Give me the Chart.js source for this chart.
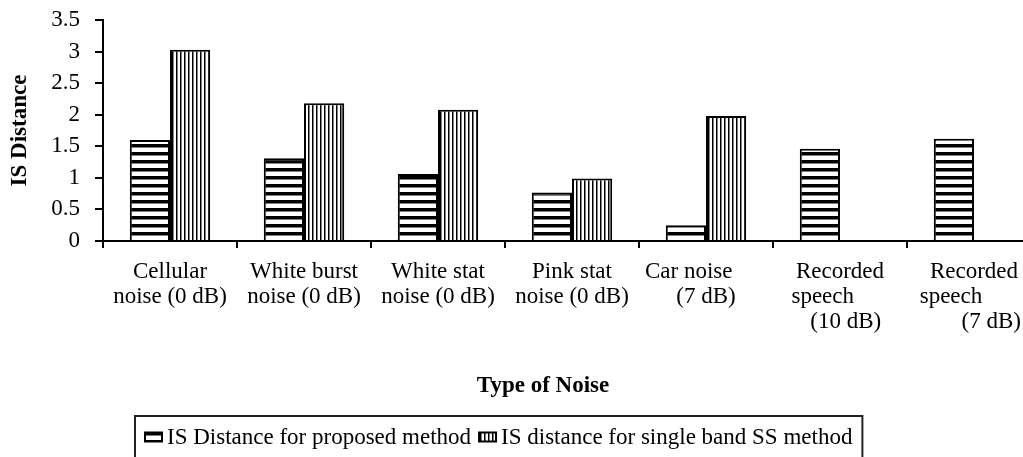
<!DOCTYPE html>
<html>
<head>
<meta charset="utf-8">
<title>IS Distance by Type of Noise</title>
<script src="https://cdn.jsdelivr.net/npm/chart.js@4/dist/chart.umd.min.js"></script>
<style>
  html, body { margin: 0; padding: 0; background: #fff; overflow: hidden; }
  #wrap { width: 1023px; height: 457px; overflow: hidden; }
  canvas { display: block; }
</style>
</head>
<body>
<div id="wrap"><canvas id="chart" width="1045" height="457"></canvas></div>
<script>
// Category labels (multi-line, padded the way the spreadsheet wrapped them)
const categories = [
  ['Cellular', 'noise (0 dB)'],
  ['White burst', 'noise (0 dB)'],
  ['White stat', 'noise (0 dB)'],
  ['Pink stat', 'noise (0 dB)'],
  ['Car noise      ', '(7 dB)'],
  ['Recorded', 'speech      ', '  (10 dB)'],
  ['Recorded', 'speech        ', '      (7 dB)']
];

const seriesNames = [
  'IS Distance for proposed method',
  'IS distance for single band SS method'
];

const proposedValues = [1.60, 1.31, 1.06, 0.77, 0.25, 1.46, 1.62];
const singleBandValues = [3.03, 2.18, 2.08, 0.99, 1.98, null, null];

const yTicks = [0, 0.5, 1, 1.5, 2, 2.5, 3, 3.5];

const xTitle = 'Type of Noise';
const yTitle = 'IS Distance';

const FONT = '"Liberation Serif", "Times New Roman", serif';

// Hatch fills
function horizontalStripes() {
  const c = document.createElement('canvas');
  c.width = 8; c.height = 8;
  const g = c.getContext('2d');
  g.fillStyle = '#fff'; g.fillRect(0, 0, 8, 8);
  g.fillStyle = '#000'; g.fillRect(0, 0, 8, 3.5);
  return g.createPattern(c, 'repeat');
}
function verticalStripes() {
  const c = document.createElement('canvas');
  c.width = 4; c.height = 4;
  const g = c.getContext('2d');
  g.fillStyle = '#fff'; g.fillRect(0, 0, 4, 4);
  g.fillStyle = '#000'; g.fillRect(0, 0, 1.5, 4);
  return g.createPattern(c, 'repeat');
}

// Axis title under the categories and the framed legend at the bottom
const bottomDecor = {
  id: 'bottomDecor',
  afterDraw(chart) {
    const ctx = chart.ctx;
    ctx.save();
    ctx.fillStyle = '#000';
    ctx.font = 'bold 23px ' + FONT;
    ctx.textAlign = 'center';
    ctx.textBaseline = 'middle';
    ctx.fillText(xTitle, 543, 386);

    ctx.font = '23px ' + FONT;
    ctx.textAlign = 'left';
    const cy = 437;
    let x = 145;
    chart.data.datasets.forEach(ds => {
      ctx.fillStyle = ds.backgroundColor;
      ctx.fillRect(x, cy - 4.5, 17, 9);
      ctx.strokeStyle = '#000';
      ctx.lineWidth = 2;
      ctx.strokeRect(x, cy - 4.5, 17, 9);
      x += 22;
      ctx.fillStyle = '#000';
      ctx.fillText(ds.label, x, cy + 1);
      x += ctx.measureText(ds.label).width + 8;
    });
    ctx.strokeStyle = '#222';
    ctx.lineWidth = 2;
    ctx.strokeRect(135, 416, x + 2 - 135, 44);
    ctx.restore();
  }
};

new Chart(document.getElementById('chart'), {
  type: 'bar',
  data: {
    labels: categories,
    datasets: [
      {
        label: seriesNames[0],
        data: proposedValues,
        backgroundColor: horizontalStripes(),
        borderColor: '#000',
        borderWidth: 2
      },
      {
        label: seriesNames[1],
        data: singleBandValues,
        backgroundColor: verticalStripes(),
        borderColor: '#000',
        borderWidth: 2
      }
    ]
  },
  options: {
    responsive: false,
    animation: false,
    layout: { padding: { top: 20, right: 4, left: 0, bottom: 0 } },
    datasets: {
      bar: { categoryPercentage: 0.6, barPercentage: 1.0 }
    },
    plugins: {
      legend: { display: false },
      tooltip: { enabled: false }
    },
    scales: {
      x: {
        grid: {
          display: true,
          drawOnChartArea: false,
          offset: true,
          tickLength: 7,
          color: '#000',
          lineWidth: 2
        },
        border: { display: true, color: '#000', width: 2 },
        ticks: {
          color: '#000',
          font: { family: FONT, size: 23, lineHeight: 1.09 },
          padding: 11,
          maxRotation: 0,
          autoSkip: false
        },
        afterFit(scale) {
          scale.height = 216;
          scale.paddingLeft = 0;
          scale.paddingRight = 0;
        }
      },
      y: {
        min: 0,
        max: 3.5,
        afterBuildTicks(scale) { scale.ticks = yTicks.map(v => ({ value: v })); },
        grid: {
          display: true,
          drawOnChartArea: false,
          tickLength: 8,
          color: '#000',
          lineWidth: 2
        },
        border: { display: true, color: '#000', width: 2 },
        ticks: {
          color: '#000',
          font: { family: FONT, size: 23, lineHeight: 1.0 },
          padding: 15,
          autoSkip: false,
          callback: v => String(v)
        },
        title: {
          display: true,
          text: yTitle,
          color: '#000',
          font: { family: FONT, size: 23, weight: 'bold', lineHeight: 1.1 },
          padding: { top: 7, bottom: 0 }
        },
        afterFit(scale) {
          scale.width = 103;
          scale.paddingTop = 0;
          scale.paddingBottom = 0;
        }
      }
    }
  },
  plugins: [bottomDecor]
});
</script>
</body>
</html>
